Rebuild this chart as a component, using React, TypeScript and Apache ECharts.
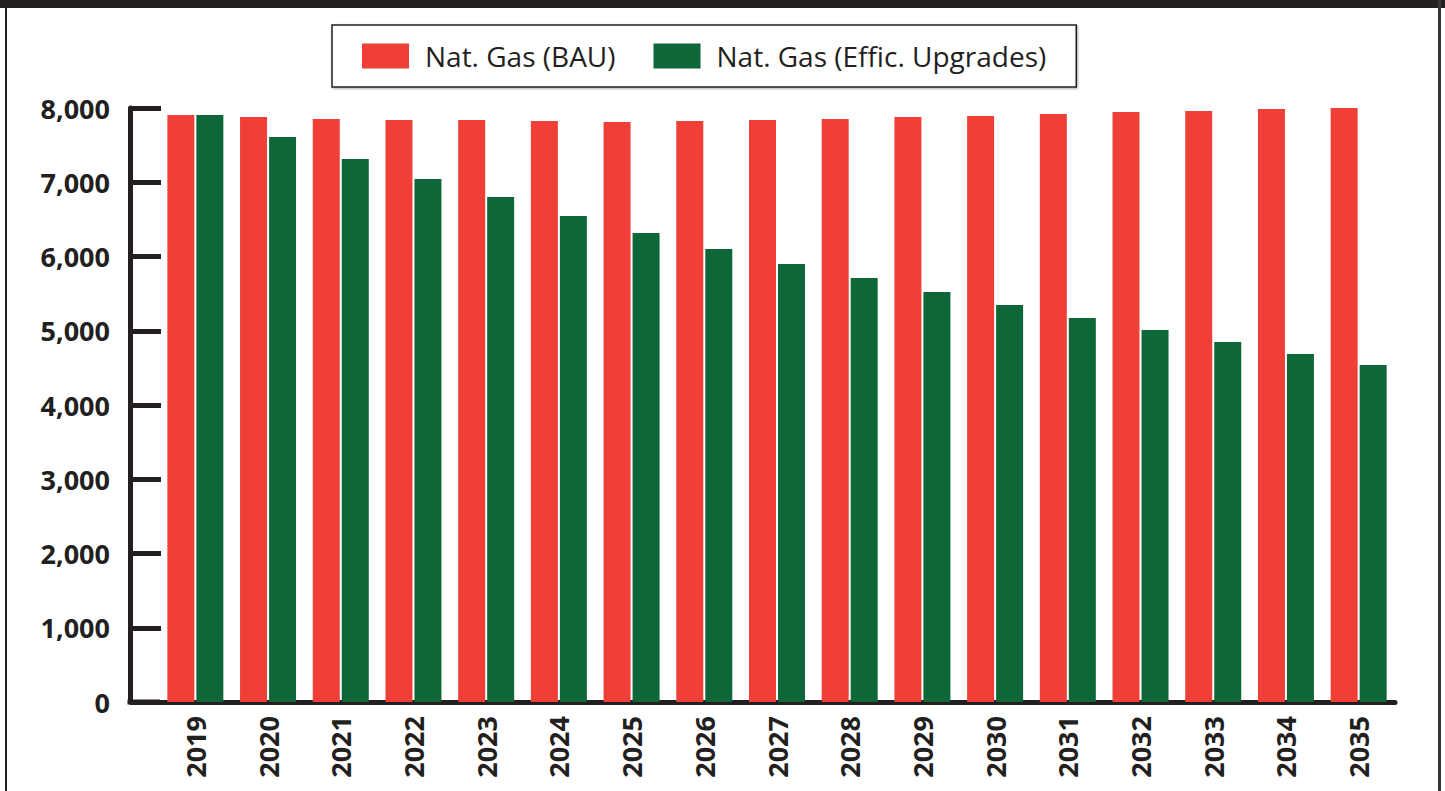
import React, { useEffect, useRef } from "react";
import * as echarts from "echarts";

const years = ["2019","2020","2021","2022","2023","2024","2025","2026","2027","2028","2029","2030","2031","2032","2033","2034","2035"];
const bau = [7906, 7879, 7852, 7838, 7838, 7825, 7811, 7825, 7838, 7852, 7879, 7892, 7919, 7946, 7960, 7987, 8000];
const effic = [7906, 7609, 7313, 7044, 6801, 6545, 6316, 6101, 5899, 5710, 5522, 5347, 5172, 5010, 4848, 4687, 4539];
const seriesNames = ["Nat. Gas (BAU)", "Nat. Gas (Effic. Upgrades)"];

const INK = "#231f20";
const RED = "#ef3f37";
const GREEN = "#0d6739";
const FONT = "'Open Sans', 'Noto Sans', sans-serif";

export default function App() {
  const ref = useRef<HTMLDivElement>(null);
  useEffect(() => {
    if (!ref.current) return;
    const chart = echarts.init(ref.current, undefined, { renderer: "svg" });
    chart.setOption({
      animation: false,
      backgroundColor: "#ffffff",
      textStyle: { fontFamily: FONT },
      grid: { left: 159, right: 50, top: 108, bottom: 89, containLabel: false },
      legend: {
        left: 332,
        top: 25,
        padding: [17, 30, 17, 30],
        itemWidth: 47,
        itemHeight: 25,
        itemGap: 38,
        borderColor: INK,
        borderWidth: 1.5,
        backgroundColor: "#ffffff",
        shadowColor: "rgba(0,0,0,0.35)",
        shadowBlur: 2,
        shadowOffsetX: 1,
        shadowOffsetY: 1,
        icon: "rect",
        data: seriesNames,
        textStyle: {
          fontFamily: FONT,
          fontSize: 28,
          color: INK,
          lineHeight: 25,
          padding: [0, 0, 0, 11],
        },
      },
      xAxis: {
        type: "category",
        data: years,
        boundaryGap: true,
        axisLine: { show: true, lineStyle: { color: INK, width: 5 } },
        axisTick: { show: false },
        axisLabel: {
          rotate: 90,
          margin: 14,
          fontFamily: FONT,
          fontWeight: "bold",
          fontSize: 27,
          color: INK,
        },
        splitLine: { show: false },
      },
      yAxis: {
        type: "value",
        min: 0,
        max: 8000,
        interval: 1000,
        offset: 29,
        axisLine: { show: true, lineStyle: { color: INK, width: 5 } },
        axisTick: { show: true, inside: true, length: 31, lineStyle: { color: INK, width: 5 } },
        axisLabel: {
          margin: 20,
          fontFamily: FONT,
          fontWeight: "bold",
          fontSize: 27,
          color: INK,
          formatter: (v: number) => v.toLocaleString("en-US"),
        },
        splitLine: { show: false },
      },
      series: [
        {
          name: seriesNames[0],
          type: "bar",
          data: bau,
          barWidth: 27,
          barGap: "7.4%",
          itemStyle: { color: RED },
        },
        {
          name: seriesNames[1],
          type: "bar",
          data: effic,
          barWidth: 27,
          barGap: "7.4%",
          itemStyle: { color: GREEN },
        },
      ],
      graphic: [
        { type: "rect", left: 0, top: 0, shape: { width: 1445, height: 8 }, style: { fill: INK }, silent: true },
        { type: "rect", left: 5, top: 0, shape: { width: 2, height: 791 }, style: { fill: INK }, silent: true },
        { type: "rect", left: 1438, top: 0, shape: { width: 3, height: 791 }, style: { fill: "#3a3637" }, silent: true },
        { type: "line", shape: { x1: 127.5, y1: 702, x2: 160, y2: 702 }, style: { stroke: INK, lineWidth: 5 }, silent: true },
      ],
    });
    return () => chart.dispose();
  }, []);
  return (
    <div
      ref={ref}
      style={{ position: "fixed", left: 0, top: 0, width: 1445, height: 791, background: "#fff" }}
    />
  );
}
